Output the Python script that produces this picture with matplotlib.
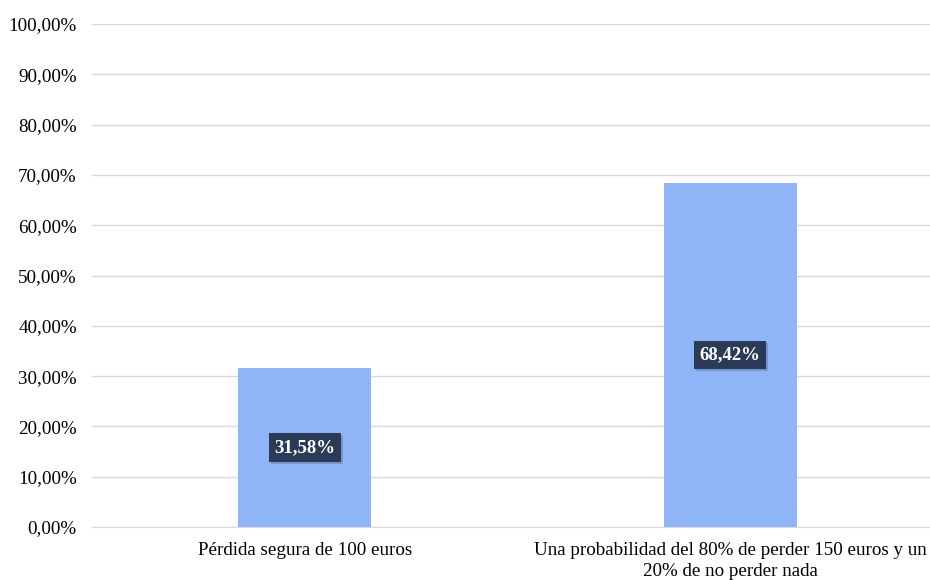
import matplotlib
matplotlib.use('Agg')
import matplotlib.pyplot as plt
import matplotlib.patheffects as pe
from matplotlib.ticker import FuncFormatter

categories = ["Pérdida segura de 100 euros",
              "Una probabilidad del 80% de perder 150 euros y un\n20% de no perder nada"]
values = [31.58, 68.42]
yticks = [0, 10, 20, 30, 40, 50, 60, 70, 80, 90, 100]

plt.rcParams['font.family'] = ['Liberation Serif', 'DejaVu Serif']

fig = plt.figure(figsize=(9.3, 5.8), dpi=100)
ax = fig.add_axes([0.099, 0.0914, 0.915, 0.8672])

x = range(len(categories))
ax.bar(x, values, width=0.313, color='#8fb4f7', zorder=2)
ax.set_xlim(-0.5, 1.5)
ax.set_ylim(0, 100)
ax.set_yticks(yticks)
ax.yaxis.set_major_formatter(FuncFormatter(lambda v, p: f"{v:.2f}%".replace('.', ',')))
ax.grid(axis='y', color='#d9d9d9', linewidth=1, zorder=0)
ax.set_xticks(list(x))
ax.set_xticklabels(categories, fontsize=13.7, linespacing=1.25)
ax.tick_params(axis='y', labelsize=13.7, length=0, pad=11)
ax.tick_params(axis='x', length=0, pad=11)
for s in ['top', 'right', 'left']:
    ax.spines[s].set_visible(False)
ax.spines['bottom'].set_color('#d9d9d9')

for i, v in enumerate(values):
    ax.text(i, v / 2, f"{v:.2f}%".replace('.', ','), ha='center', va='center',
            color='white', fontsize=13.5, fontweight='bold', zorder=4,
            bbox=dict(boxstyle='square,pad=0.3', facecolor='#2b3b57',
                      edgecolor='none',
                      path_effects=[pe.SimplePatchShadow(offset=(1.5, -1.5), alpha=0.18), pe.Normal()]))

fig.savefig('out.png', dpi=100)
